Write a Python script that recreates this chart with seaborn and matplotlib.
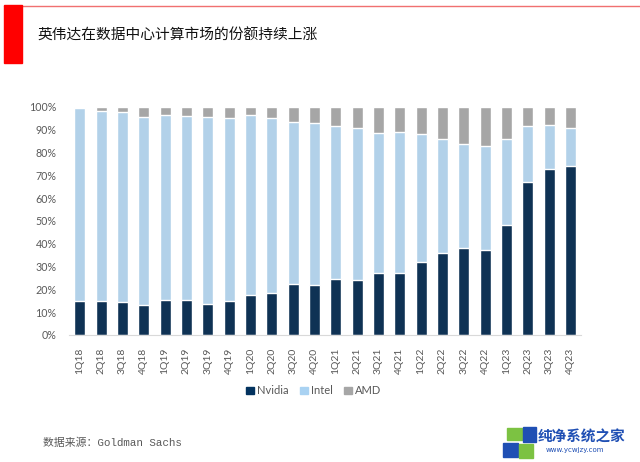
import matplotlib
matplotlib.use('Agg')
import matplotlib.pyplot as plt
import seaborn as sns
import pandas as pd
from matplotlib.patches import Rectangle, Patch
from matplotlib.lines import Line2D
from matplotlib.ticker import PercentFormatter

quarters = ['1Q18', '2Q18', '3Q18', '4Q18', '1Q19', '2Q19', '3Q19', '4Q19',
            '1Q20', '2Q20', '3Q20', '4Q20', '1Q21', '2Q21', '3Q21', '4Q21',
            '1Q22', '2Q22', '3Q22', '4Q22', '1Q23', '2Q23', '3Q23', '4Q23']
nvidia = [15.0, 15.0, 14.3, 13.0, 15.2, 15.3, 13.4, 14.7, 17.4, 18.5, 22.5, 21.9,
          24.5, 23.9, 27.3, 27.2, 31.8, 35.9, 38.1, 37.1, 48.0, 66.9, 72.8, 74.2]
intel = [84.5, 83.1, 83.5, 82.6, 81.2, 80.8, 82.1, 80.5, 78.8, 76.4, 70.9, 71.1,
         67.2, 66.8, 61.3, 61.9, 56.4, 49.8, 45.4, 45.8, 37.8, 24.5, 19.2, 16.6]
amd = [0.5, 1.9, 2.2, 4.4, 3.6, 3.9, 4.5, 4.8, 3.8, 5.1, 6.6, 7.0,
       8.3, 9.3, 11.4, 10.9, 11.8, 14.3, 16.5, 17.1, 14.2, 8.6, 8.0, 9.2]

title = '英伟达在数据中心计算市场的份额持续上涨'
source = '数据来源：Goldman Sachs'

c_nvidia = '#03335f'
c_intel = '#a9d2f2'
c_amd = '#a6a6a6'
grey_txt = '#595959'

df = pd.DataFrame({'quarter': quarters, 'Nvidia': nvidia, 'Intel': intel, 'AMD': amd})
df['top_intel'] = df['Nvidia'] + df['Intel']
df['top_amd'] = df['top_intel'] + df['AMD']
for col in ['Nvidia', 'top_intel', 'top_amd']:
    df[col] = df[col] / 100

sns.set_theme(style='white')
plt.rcParams['font.family'] = ['Lato', 'DejaVu Sans']

fig = plt.figure(figsize=(6.4, 4.62), dpi=100)
ax = fig.add_axes([0.108, 0.275, 0.8, 0.494])

# stacked bars: draw the cumulative totals back to front
sns.barplot(x='quarter', y='top_amd', data=df, color=c_amd, width=0.52, ax=ax)
sns.barplot(x='quarter', y='top_intel', data=df, color=c_intel, width=0.52, ax=ax)
sns.barplot(x='quarter', y='Nvidia', data=df, color=c_nvidia, width=0.52, ax=ax)

ax.set_xlim(-0.5, len(quarters) - 0.5)
ax.set_ylim(0, 1.0)
ax.set_yticks([i / 10 for i in range(11)])
ax.yaxis.set_major_formatter(PercentFormatter(1.0, decimals=0))
ax.set_xlabel('')
ax.set_ylabel('')
for s in ['top', 'right', 'left']:
    ax.spines[s].set_visible(False)
ax.spines['bottom'].set_color('#d9d9d9')
ax.spines['bottom'].set_linewidth(0.8)
ax.tick_params(axis='y', length=0, pad=9, labelsize=7.7, labelcolor=grey_txt)
ax.tick_params(axis='x', length=0, pad=9, labelsize=7.5, labelcolor=grey_txt, rotation=90)

handles = [Patch(color=c_nvidia), Patch(color=c_intel), Patch(color=c_amd)]
fig.legend(handles, ['Nvidia', 'Intel', 'AMD'], loc='center', bbox_to_anchor=(0.49, 0.154),
           ncol=3, frameon=False, fontsize=8, labelcolor=grey_txt,
           handlelength=0.7, handleheight=0.7, handletextpad=0.3, columnspacing=1.0)

# header decoration
fig.patches.append(Rectangle((0.006, 0.864), 0.028, 0.125, transform=fig.transFigure,
                             color='#ff0000', zorder=3))
fig.lines.append(Line2D([0.006, 1.0], [0.988, 0.988], transform=fig.transFigure,
                        color='#f07070', linewidth=1.0))
fig.text(0.058, 0.922, title, fontsize=10.6, color='#111111', va='center', ha='left',
         family=['Noto Sans CJK SC', 'DejaVu Sans'])
fig.text(0.067, 0.041, source, fontsize=7.8, color=grey_txt, va='center', ha='left',
         family=['Liberation Mono', 'Noto Sans CJK SC'])

# watermark
fig.patches.append(Rectangle((0.792, 0.048), 0.023, 0.026, transform=fig.transFigure, color='#7cc242'))
fig.patches.append(Rectangle((0.817, 0.043), 0.020, 0.032, transform=fig.transFigure, color='#1f4fb4'))
fig.patches.append(Rectangle((0.786, 0.011), 0.023, 0.031, transform=fig.transFigure, color='#1f4fb4'))
fig.patches.append(Rectangle((0.811, 0.009), 0.022, 0.029, transform=fig.transFigure, color='#7cc242'))
fig.text(0.84, 0.054, '纯净系统之家', fontsize=10.5, color='#1f4fb4', fontweight='bold',
         va='center', ha='left', family=['Noto Sans CJK SC', 'DejaVu Sans'])
fig.text(0.852, 0.025, 'www.ycwjzy.com', fontsize=5, color='#1f4fb4', va='center', ha='left',
         family=['DejaVu Sans'])

fig.savefig('out.png', dpi=100)
